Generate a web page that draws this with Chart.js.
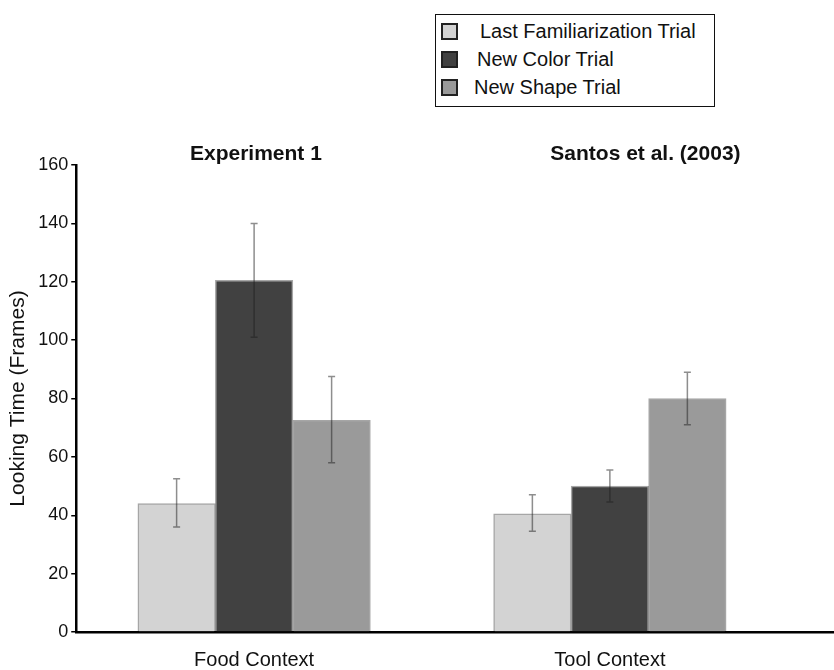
<!DOCTYPE html>
<html>
<head>
<meta charset="utf-8">
<script src="https://cdn.jsdelivr.net/npm/chart.js@4/dist/chart.umd.min.js"></script>
<style>
    body { margin: 0; background: #fff; }
    #wrap { position: relative; width: 834px; height: 670px; }
    #legend {
        position: absolute; left: 435px; top: 14px; width: 278px; height: 91px;
        border: 1.5px solid #111; background: #fff;
        font-family: 'Liberation Sans', Arial, sans-serif; font-size: 20px; color: #111;
    }
    .row { position: absolute; left: 5px; height: 20px; line-height: 20px; white-space: nowrap; }
    .sw { display: inline-block; width: 13px; height: 13px; border: 2px solid #222; vertical-align: -2px; }
</style>
</head>
<body>
<div id="wrap">
    <canvas id="barChart" width="834" height="670"></canvas>
    <div id="legend"></div>
</div>
<script>
// data
var contexts = ['Food Context', 'Tool Context'];
var contextPos = [1, 2];
var panelTitles = ['Experiment 1', 'Santos et al. (2003)'];

var seriesNames = ['Last Familiarization Trial', 'New Color Trial', 'New Shape Trial'];
var familiarization = [44, 40.5];
var newColor = [120.5, 50];
var newShape = [72.5, 80];

// error bar ends (low, high)
var familiarizationLow = [36, 34.5];
var familiarizationHigh = [52.5, 47];
var newColorLow = [101, 44.5];
var newColorHigh = [140, 55.5];
var newShapeLow = [58, 71];
var newShapeHigh = [87.5, 89];

var yTicks = [0, 20, 40, 60, 80, 100, 120, 140, 160];

var colors = ['#d3d3d3', '#414141', '#9a9a9a'];
var FONT = "'Liberation Sans', Arial, sans-serif";

document.addEventListener('DOMContentLoaded', function () {
    var values = [familiarization, newColor, newShape];
    var lows = [familiarizationLow, newColorLow, newShapeLow];
    var highs = [familiarizationHigh, newColorHigh, newShapeHigh];

    var datasets = seriesNames.map(function (name, i) {
        return {
            label: name,
            data: values[i].map(function (v, j) { return { x: contextPos[j], y: v }; }),
            backgroundColor: colors[i],
            borderColor: 'rgba(0,0,0,0.35)',
            borderWidth: 1.5,
            barThickness: 77.5
        };
    });

    // legend (html, boxed)
    var legend = document.getElementById('legend');
    var rowTops = [6, 34, 62];
    var textGap = [22, 19, 16];
    seriesNames.forEach(function (name, i) {
        var row = document.createElement('div');
        row.className = 'row';
        row.style.top = rowTops[i] + 'px';
        var sw = document.createElement('span');
        sw.className = 'sw';
        sw.style.background = colors[i];
        sw.style.marginRight = textGap[i] + 'px';
        row.appendChild(sw);
        row.appendChild(document.createTextNode(name));
        legend.appendChild(row);
    });

    var errorBars = {
        id: 'errorBars',
        afterDatasetsDraw: function (chart) {
            var ctx = chart.ctx;
            var y = chart.scales.y;
            ctx.save();
            ctx.strokeStyle = 'rgba(30,30,30,0.5)';
            ctx.lineWidth = 1.5;
            chart.data.datasets.forEach(function (ds, i) {
                chart.getDatasetMeta(i).data.forEach(function (bar, j) {
                    var yl = y.getPixelForValue(lows[i][j]);
                    var yh = y.getPixelForValue(highs[i][j]);
                    ctx.beginPath();
                    ctx.moveTo(bar.x, yl); ctx.lineTo(bar.x, yh);
                    ctx.moveTo(bar.x - 3.5, yl); ctx.lineTo(bar.x + 3.5, yl);
                    ctx.moveTo(bar.x - 3.5, yh); ctx.lineTo(bar.x + 3.5, yh);
                    ctx.stroke();
                });
            });
            ctx.restore();
        }
    };

    var panelLabels = {
        id: 'panelLabels',
        afterDraw: function (chart, args, opts) {
            var ctx = chart.ctx;
            var x = chart.scales.x;
            ctx.save();
            ctx.font = 'bold 21px ' + FONT;
            ctx.fillStyle = '#111';
            ctx.textAlign = 'center';
            ctx.textBaseline = 'alphabetic';
            panelTitles.forEach(function (t, i) {
                ctx.fillText(t, x.getPixelForValue(opts.at[i]), opts.baseline);
            });
            ctx.restore();
        }
    };

    var ctx = document.getElementById('barChart').getContext('2d');
    new Chart(ctx, {
        type: 'bar',
        data: { datasets: datasets },
        plugins: [errorBars, panelLabels],
        options: {
            responsive: false,
            animation: false,
            layout: { padding: { top: 165, left: 6, right: 0, bottom: -18 } },
            plugins: {
                legend: { display: false },
                tooltip: { enabled: false },
                panelLabels: { at: [1.005, 2.1], baseline: 160 }
            },
            scales: {
                x: {
                    type: 'linear',
                    offset: false,
                    min: 0.5,
                    max: 2.63,
                    grid: { display: false, drawTicks: false, offset: false },
                    border: { display: true, color: '#000', width: 2.5 },
                    afterBuildTicks: function (scale) {
                        scale.ticks = contextPos.map(function (v) { return { value: v }; });
                    },
                    ticks: {
                        autoSkip: false,
                        maxRotation: 0,
                        padding: 18,
                        color: '#111',
                        font: { family: FONT, size: 20, lineHeight: 1 },
                        callback: function (v) { return contexts[contextPos.indexOf(v)]; }
                    }
                },
                y: {
                    min: 0,
                    max: 160,
                    grid: { drawOnChartArea: false, drawTicks: true, tickLength: 5, color: '#000', lineWidth: 1.5 },
                    border: { display: true, color: '#000', width: 2.5 },
                    afterBuildTicks: function (scale) {
                        scale.ticks = yTicks.map(function (v) { return { value: v }; });
                    },
                    ticks: {
                        padding: 3,
                        color: '#111',
                        font: { family: FONT, size: 18 }
                    },
                    title: {
                        display: true,
                        text: 'Looking Time (Frames)',
                        color: '#111',
                        font: { family: FONT, size: 21 },
                        padding: { top: 0, bottom: 4 }
                    }
                }
            }
        }
    });
});
</script>
</body>
</html>
